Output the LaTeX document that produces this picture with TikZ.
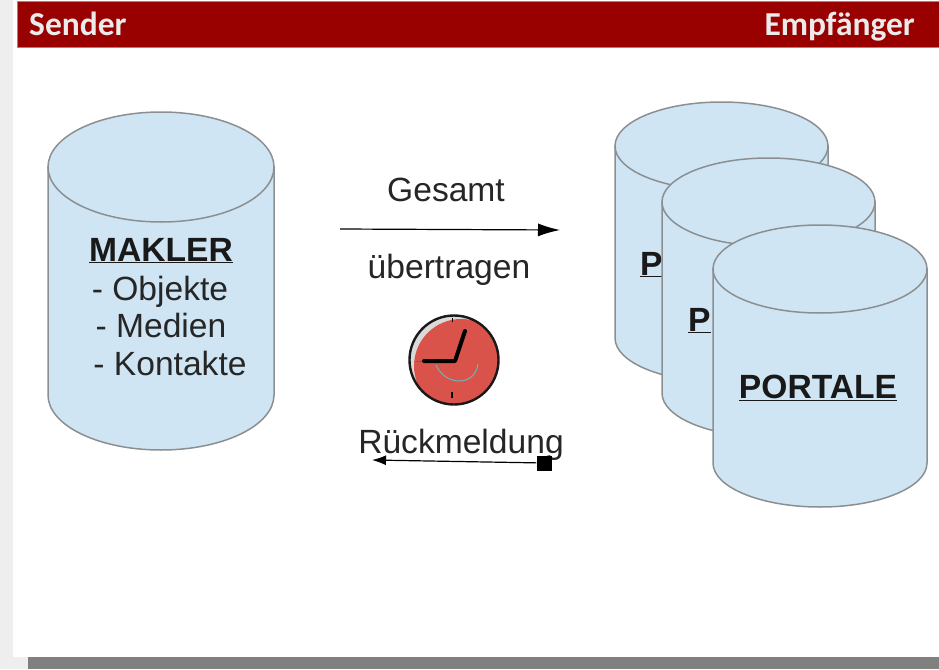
\documentclass[tikz,border=0pt]{standalone}
\usepackage{fontspec}
\setmainfont{Liberation Sans}
\newfontfamily\hdr{Carlito}
\usetikzlibrary{arrows.meta}
\definecolor{cyl}{HTML}{CFE5F3}
\definecolor{cylline}{HTML}{8C8F91}
\definecolor{band}{HTML}{990000}
\definecolor{pagebg}{HTML}{EEEEEE}
\definecolor{foot}{HTML}{808080}
\definecolor{clockred}{HTML}{D9534A}
\definecolor{clockgrey}{HTML}{DADADA}
\definecolor{sweep}{HTML}{6FB3BC}
\newcommand{\cylshape}[4]{% left x, right x, top centre y, bottom centre y ; ry below
  \pgfmathsetmacro{\cx}{(#1+#2)/2}
  \pgfmathsetmacro{\rx}{(#2-#1)/2}
  \path[fill=cyl,draw=cylline,line width=1.5pt] (#1,#3) -- (#1,#4) arc[start angle=180,end angle=0,x radius=\rx,y radius=\cylry] -- (#2,#3) -- cycle;
  \path[fill=cyl,draw=cylline,line width=1.5pt] (\cx,#3) ellipse[x radius=\rx,y radius=\cylry];
}
\tikzset{
  lbl/.style={inner sep=0pt,font=\fontsize{33.6}{38}\selectfont,text=black!85},
  boldlbl/.style={inner sep=0pt,font=\fontsize{33.6}{38}\selectfont\bfseries,text=black!90},
  hdrlbl/.style={inner sep=0pt,text=white!92!black,font=\hdr\fontsize{33.5}{38}\selectfont\bfseries},
  conn/.style={line width=1.2pt,-{Latex[length=22pt,width=13pt]}}
}
\begin{document}
\begin{tikzpicture}[x=1pt,y=-1pt]
\useasboundingbox (0,0) rectangle (939,669);
\fill[pagebg] (0,0) rectangle (939,669);
\fill[white] (13,0) rectangle (939,657);
\fill[foot] (28,657) rectangle (939,669);
\fill[band,draw=black!45,line width=1pt] (17.5,1.5) rectangle (945,48);
\node[hdrlbl,anchor=base west] (sender) at (29,36) {Sender};
\node[hdrlbl,anchor=base east] (empf) at (915,36) {Empfänger};
% left cylinder
\def\cylry{55}
\cylshape{48}{274}{167}{395}
\node[boldlbl,anchor=base] (makler) at (161,261) {\underline{MAKLER}};
\node[lbl,anchor=base] (obj) at (160,300) {- Objekte};
\node[lbl,anchor=base] (med) at (161,337) {- Medien};
\node[lbl,anchor=base] (kon) at (170,375) {- Kontakte};
% right cylinders
\def\cylry{44}
\cylshape{615}{828}{146}{338}
\node[boldlbl,anchor=base west] (p1) at (640,275) {\underline{P}};
\cylshape{662}{875}{202}{393}
\node[boldlbl,anchor=base west] (p2) at (688,331) {\underline{P}};
\cylshape{713}{927}{269}{463}
\node[boldlbl,anchor=base] (portale) at (818,398) {\underline{PORTALE}};
% top arrow
\node[lbl,anchor=base] (ges) at (446,201) {Gesamt};
\node[lbl,anchor=base] (ueb) at (449,278) {übertragen};
\coordinate (a1) at (340,229);
\coordinate (a2) at (560,230);
\draw[conn] (a1) -- (a2);
% clock
\fill[clockgrey] (454,360) circle[radius=44];
\begin{scope}
\clip (454,360) circle[radius=44];
\fill[clockred] (461,366) circle[radius=47];
\end{scope}
\draw[black!90,line width=2.4pt] (454,360) circle[radius=44.5];
\draw[sweep,line width=1pt] (436,365) .. controls (445,386) and (475,387) .. (478,364);
\draw[black,line width=4pt,line cap=round,line join=round] (424,361) -- (455,361) -- (465,331);
\draw[black,line width=1.4pt] (452,392) -- (452,398);
\draw[black,line width=1pt] (452,318) -- (452,322);
\draw[black!60,line width=1pt] (416,361) -- (422,361);
% bottom arrow
\node[lbl,anchor=base] (rueck) at (461,453) {Rückmeldung};
\coordinate (b2) at (372,460);
\node[fill=black,minimum size=15pt,inner sep=0pt] (sq) at (544,463) {};
\draw[line width=1.2pt,-{Latex[length=14pt,width=10pt]}] (sq) -- (b2);
\end{tikzpicture}
\end{document}
